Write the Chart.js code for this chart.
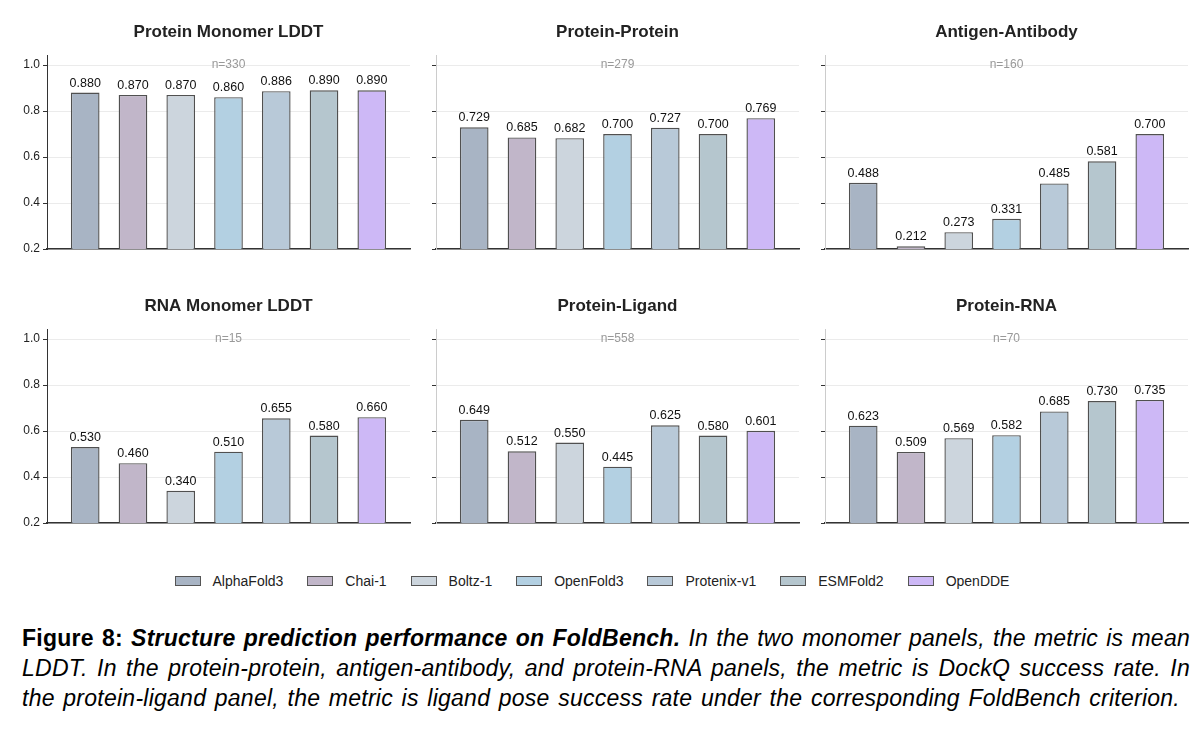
<!DOCTYPE html>
<html>
<head>
<meta charset="utf-8">
<title>FoldBench structure prediction</title>
<script src="https://cdn.jsdelivr.net/npm/chart.js@4.4.1/dist/chart.umd.min.js"></script>
<style>
    html, body { margin: 0; padding: 0; background: #fff; }
    #page { position: relative; width: 1200px; height: 731px; overflow: hidden; font-family: 'Liberation Sans', Arial, sans-serif; }
    #page canvas { position: absolute; }
    #legend { position: absolute; left: 0; top: 573px; width: 1184px; display: flex; justify-content: center; align-items: center; font-size: 14px; color: #222; }
    #legend .item { display: flex; align-items: center; margin: 0 12px; }
    #legend .swatch { width: 24px; height: 8px; border: 1px solid #555; margin-right: 12px; }
    #caption { position: absolute; left: 22px; top: 623px; width: 1168px; font-size: 23px; line-height: 30px; letter-spacing: 0.25px; color: #000; }
    #caption div { text-align: justify; text-align-last: justify; white-space: nowrap; }
</style>
</head>
<body>
<div id="page">
    <canvas id="panel0"></canvas>
    <canvas id="panel1"></canvas>
    <canvas id="panel2"></canvas>
    <canvas id="panel3"></canvas>
    <canvas id="panel4"></canvas>
    <canvas id="panel5"></canvas>
    <div id="legend"></div>
    <div id="caption">
        <div><b>Figure 8: <i>Structure prediction performance on FoldBench.</i></b><i> In the two monomer panels, the metric is mean</i></div>
        <div><i>LDDT. In the protein-protein, antigen-antibody, and protein-RNA panels, the metric is DockQ success rate. In</i></div>
        <div style="width: 1158px"><i>the protein-ligand panel, the metric is ligand pose success rate under the corresponding FoldBench criterion.</i></div>
    </div>
</div>
<script>
// Donnees
const models = ['AlphaFold3', 'Chai-1', 'Boltz-1', 'OpenFold3', 'Protenix-v1', 'ESMFold2', 'OpenDDE'];
const modelColors = ['#a8b4c4', '#c1b6c9', '#ccd5dd', '#b3d0e2', '#b8c9d8', '#b5c6ce', '#cdb8f6'];

const panelTitles = ['Protein Monomer LDDT', 'Protein-Protein', 'Antigen-Antibody',
    'RNA Monomer LDDT', 'Protein-Ligand', 'Protein-RNA'];
const sampleCounts = [330, 279, 160, 15, 558, 70];

const proteinMonomer = [0.880, 0.870, 0.870, 0.860, 0.886, 0.890, 0.890];
const proteinProtein = [0.729, 0.685, 0.682, 0.700, 0.727, 0.700, 0.769];
const antigenAntibody = [0.488, 0.212, 0.273, 0.331, 0.485, 0.581, 0.700];
const rnaMonomer = [0.530, 0.460, 0.340, 0.510, 0.655, 0.580, 0.660];
const proteinLigand = [0.649, 0.512, 0.550, 0.445, 0.625, 0.580, 0.601];
const proteinRna = [0.623, 0.509, 0.569, 0.582, 0.685, 0.730, 0.735];

const yTicks = [0.2, 0.4, 0.6, 0.8, 1.0];

const panelValues = [proteinMonomer, proteinProtein, antigenAntibody, rnaMonomer, proteinLigand, proteinRna];

Chart.defaults.font.family = "'Liberation Sans', Arial, sans-serif";
Chart.defaults.color = '#222';

// Titre, n= et valeurs au-dessus des barres
const annotations = {
    id: 'annotations',
    afterDraw(chart, args, opts) {
        const { ctx, chartArea } = chart;
        const cx = (chartArea.left + chartArea.right) / 2;
        ctx.save();
        ctx.textAlign = 'center';

        ctx.font = "bold 17px 'Liberation Sans', Arial, sans-serif";
        ctx.fillStyle = '#222';
        ctx.textBaseline = 'middle';
        ctx.fillText(opts.title, cx, chartArea.top - 23);

        ctx.font = "12px 'Liberation Sans', Arial, sans-serif";
        ctx.fillStyle = '#999';
        ctx.fillText('n=' + opts.count, cx, chart.scales.y.getPixelForValue(1.0));

        ctx.font = "12.5px 'Liberation Sans', Arial, sans-serif";
        ctx.fillStyle = '#111';
        ctx.textBaseline = 'alphabetic';
        chart.getDatasetMeta(0).data.forEach((bar, i) => {
            const v = chart.data.datasets[0].data[i].y;
            ctx.fillText(v.toFixed(3), bar.x, bar.y - 6);
        });
        ctx.restore();
    }
};

function initPanel(index) {
    const canvas = document.getElementById('panel' + index);
    const row = Math.floor(index / 3);
    const col = index % 3;
    const plotLeft = [47, 436, 825][col];
    const showLabels = col === 0;

    canvas.width = 412;
    canvas.height = 253;
    canvas.style.left = (plotLeft - 47) + 'px';
    canvas.style.top = (10 + row * 274) + 'px';

    const values = panelValues[index];

    new Chart(canvas, {
        type: 'bar',
        data: {
            datasets: [{
                data: values.map((v, i) => ({ x: i, y: v })),
                backgroundColor: modelColors,
                borderColor: '#505050',
                borderWidth: 1.4,
                categoryPercentage: 1,
                barPercentage: 0.6
            }]
        },
        options: {
            responsive: false,
            animation: false,
            layout: {
                padding: { top: 45, bottom: 14, left: 0, right: 2 }
            },
            plugins: {
                legend: { display: false },
                tooltip: { enabled: false },
                annotations: { title: panelTitles[index], count: sampleCounts[index] }
            },
            scales: {
                x: {
                    type: 'linear',
                    min: -0.8,
                    max: 6.8,
                    offset: false,
                    afterBuildTicks: (scale) => {
                        scale.ticks = models.map((m, i) => ({ value: i }));
                    },
                    ticks: { display: false },
                    grid: { display: false, drawTicks: false },
                    border: { display: true, color: '#333', width: 1.5 }
                },
                y: {
                    min: 0.2,
                    max: 1.0435,
                    afterBuildTicks: (scale) => {
                        scale.ticks = yTicks.map(v => ({ value: v }));
                    },
                    afterFit: (scale) => {
                        scale.width = 47;
                    },
                    ticks: {
                        display: showLabels,
                        padding: 3,
                        font: { size: 12 },
                        color: '#222',
                        callback: (v) => v.toFixed(1)
                    },
                    grid: {
                        color: '#ebebeb',
                        tickColor: '#333',
                        tickLength: 4
                    },
                    border: { color: showLabels ? '#333' : '#ccc', width: 1 }
                }
            }
        },
        plugins: [annotations]
    });
}

function initLegend() {
    const legend = document.getElementById('legend');
    models.forEach((name, i) => {
        const item = document.createElement('div');
        item.className = 'item';
        const swatch = document.createElement('span');
        swatch.className = 'swatch';
        swatch.style.background = modelColors[i];
        item.appendChild(swatch);
        item.appendChild(document.createTextNode(name));
        legend.appendChild(item);
    });
}

panelTitles.forEach((t, i) => initPanel(i));
initLegend();
</script>
</body>
</html>
